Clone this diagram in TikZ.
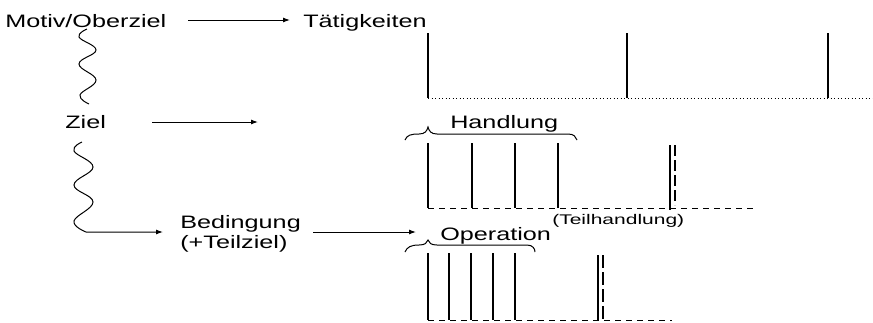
\documentclass[tikz,border=0pt]{standalone}
\usepackage{fontspec}
\setmainfont{Liberation Sans}
\usetikzlibrary{arrows.meta}
\begin{document}
\begin{tikzpicture}[x=1pt,y=-1pt,
  lbl/.style={inner sep=0pt,anchor=base west,xscale=1.4,font=\fontsize{18}{20}\selectfont},
  small/.style={inner sep=0pt,anchor=base west,xscale=1.5,font=\fontsize{14}{16}\selectfont},
  arr/.style={line width=1pt,-{Latex[length=7pt,width=5pt]}},
  tick/.style={line width=1.2pt},
  base/.style={line width=1pt},
  wave/.style={line width=1pt},
  brace/.style={line width=1pt}]
\useasboundingbox[fill=white] (0,0) rectangle (873,322);
% texts
\node[lbl] (mot) at (5,27) {Motiv/Oberziel};
\node[lbl] (taet) at (303,27) {Tätigkeiten};
\node[lbl] (ziel) at (65,128) {Ziel};
\node[lbl] (hand) at (450,128) {Handlung};
\node[lbl] (bed) at (180,228) {Bedingung};
\node[lbl] (tz) at (180,248) {(+Teilziel)};
\node[lbl] (op) at (440,240) {Operation};
\node[small] (th) at (552,224) {(Teilhandlung)};
% arrows
\coordinate (a1s) at (188,20);
\coordinate (a1e) at (290,20);
\draw[arr] (a1s) -- (a1e);
\coordinate (a2s) at (152,122);
\coordinate (a2e) at (258,122);
\draw[arr] (a2s) -- (a2e);
\coordinate (a3s) at (313,232);
\coordinate (a3e) at (416,232);
\draw[arr] (a3s) -- (a3e);
% wavy lines
\draw[wave] plot[smooth,tension=0.7] coordinates
  {(87,29) (79,37) (96,50) (79,64) (96,80) (80,95) (89,104)};
\coordinate (w2e) at (163,232);
\draw[wave,-{Latex[length=7pt,width=5pt]}] plot[smooth,tension=0.7] coordinates
  {(82,142) (74,151) (93,167) (74,185) (93,202) (74,221) (86,232)} -- (w2e);
% row 1
\foreach \x in {428,627,828} \draw[tick] (\x,33) -- (\x,98);
\draw[base,dash pattern=on 1pt off 2.5pt] (428,98) -- (873,98);
% row 2
\draw[brace] (405,140) .. controls (407,135) and (411,134) .. (419,134)
  .. controls (425,134) and (427,131) .. (428,127)
  .. controls (429,131) and (431,134) .. (437,134) -- (568,134)
  .. controls (574,134) and (576,137) .. (577,140);
\foreach \x in {428,472,515,558} \draw[tick] (\x,143) -- (\x,208);
\draw[tick] (670,145) -- (670,210);
\draw[tick,dash pattern=on 11pt off 4pt] (675,145) -- (675,205);
\draw[base,dash pattern=on 6pt off 5pt] (428,208) -- (757,208);
% row 3
\draw[brace] (405,252) .. controls (407,247) and (411,245) .. (419,245)
  .. controls (425,245) and (427,243) .. (428,240)
  .. controls (429,243) and (431,245) .. (437,245) -- (527,245)
  .. controls (533,245) and (535,249) .. (535,252);
\foreach \x in {428,449,471,493,515} \draw[tick] (\x,253) -- (\x,320);
\draw[tick] (598,255) -- (598,320);
\draw[tick,dash pattern=on 13pt off 4pt] (603,255) -- (603,320);
\draw[base,dash pattern=on 6pt off 5pt] (428,320) -- (672,320);
\end{tikzpicture}
\end{document}
